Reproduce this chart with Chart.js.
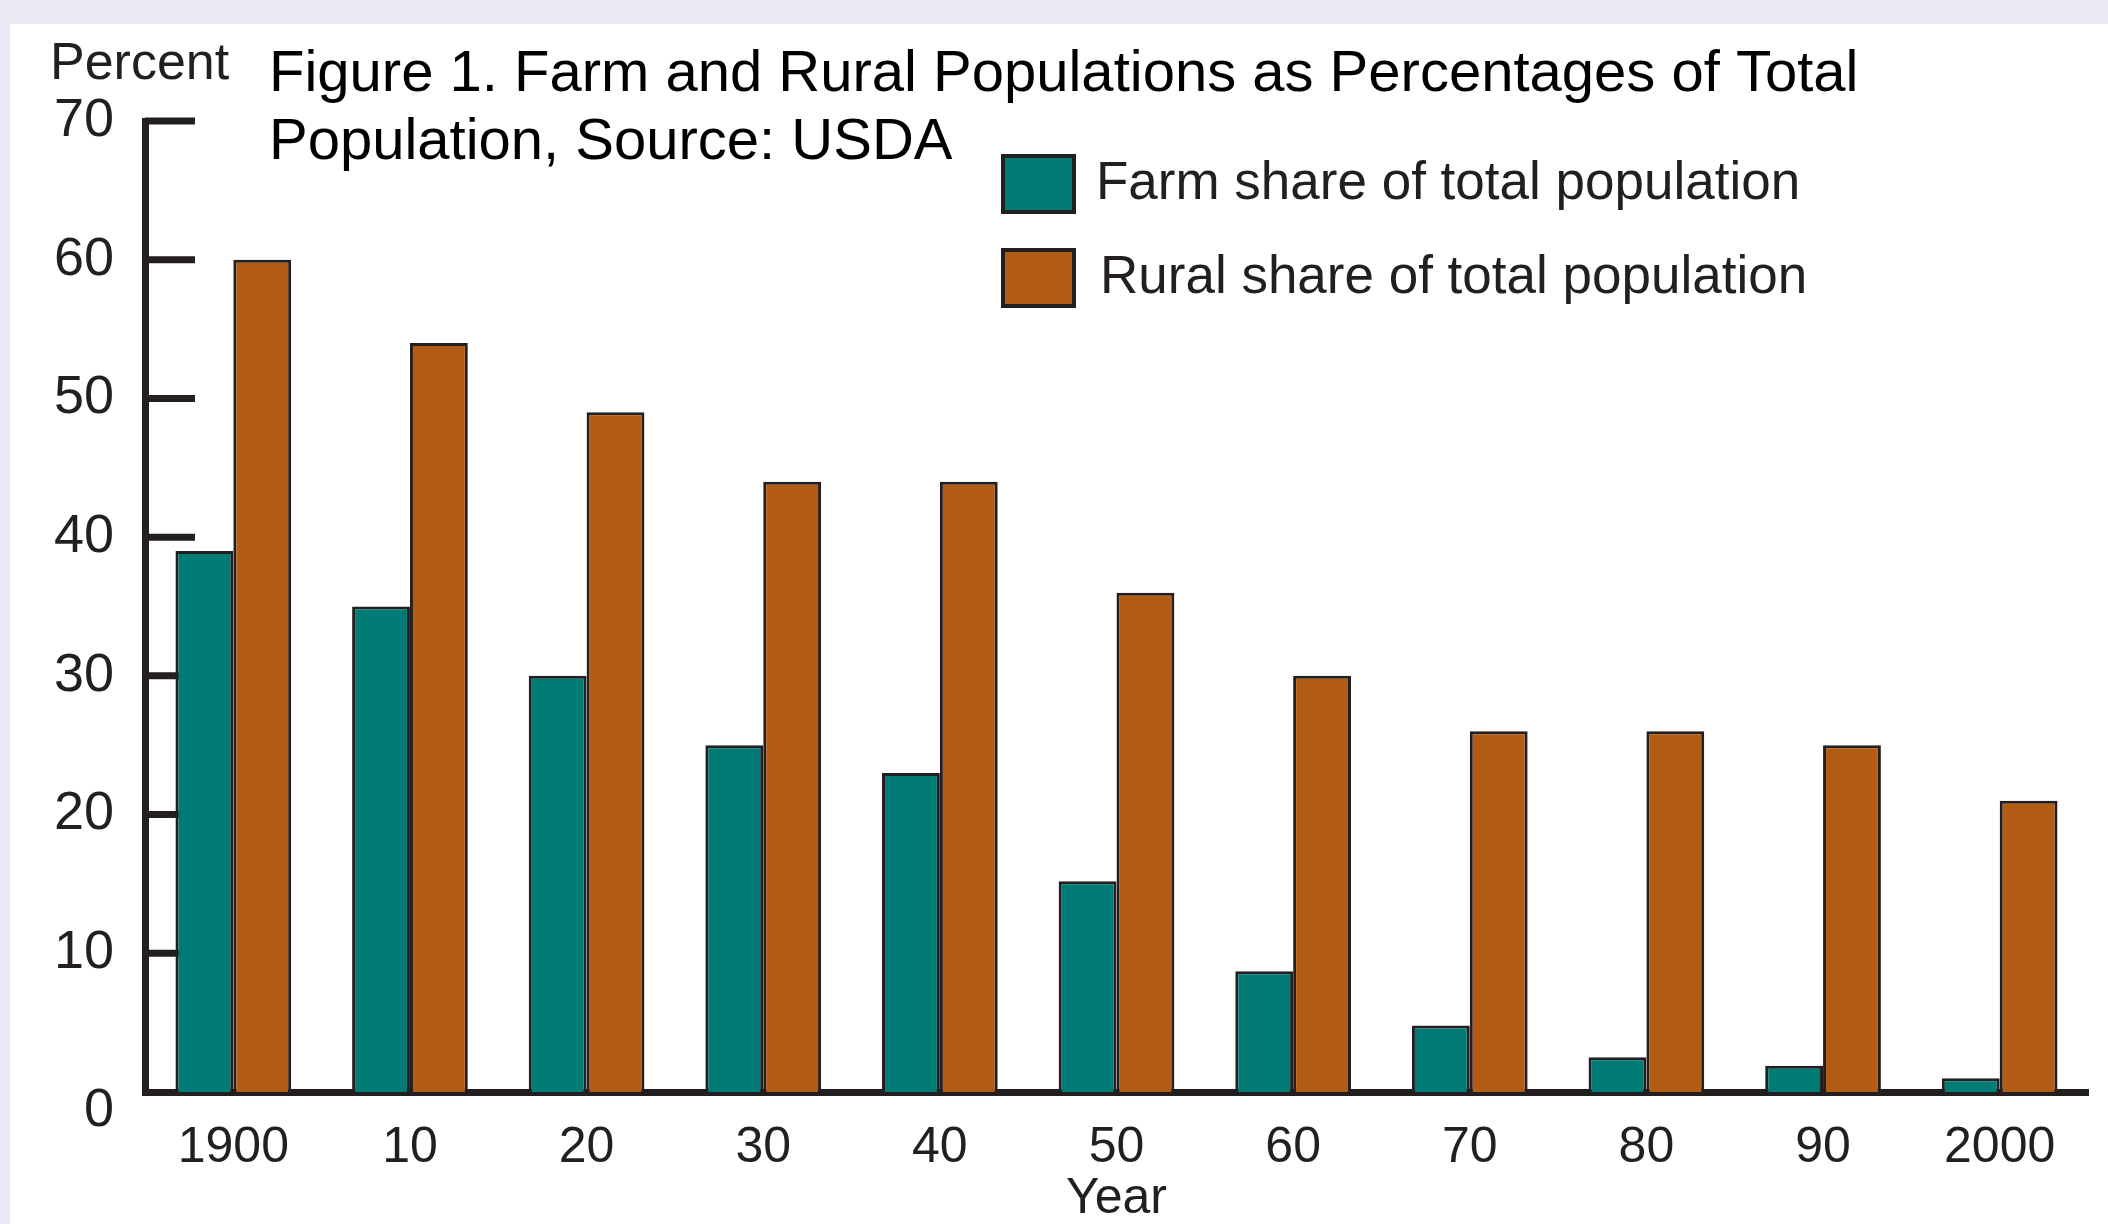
<!DOCTYPE html>
<html>
<head>
<meta charset="utf-8">
<script src="https://cdn.jsdelivr.net/npm/chart.js@4/dist/chart.umd.min.js"></script>
<style>
  html, body { margin: 0; padding: 0; background: #ebe7f5; }
  canvas { display: block; }
</style>
</head>
<body>
<canvas id="myChart" width="2108" height="1224"></canvas>
<script>
// data
var years = ['1900', '10', '20', '30', '40', '50', '60', '70', '80', '90', '2000'];
var farmShare = [39, 35, 30, 25, 23, 15.2, 8.7, 4.8, 2.5, 1.9, 1.0];
var ruralShare = [60, 54, 49, 44, 44, 36, 30, 26, 26, 25, 21];
var yTicks = [0, 10, 20, 30, 40, 50, 60, 70];
var titleLines = ['Figure 1. Farm and Rural Populations as Percentages of Total', 'Population, Source: USDA'];

var ink = '#231f20';
var font = 'Liberation Sans, Arial, Helvetica, sans-serif';

// lavender frame with the white panel
var background = {
  id: 'background',
  beforeDraw: function(chart) {
    var ctx = chart.ctx;
    ctx.save();
    ctx.fillStyle = '#ebe7f5';
    ctx.fillRect(0, 0, chart.width, chart.height);
    ctx.fillStyle = '#ffffff';
    ctx.fillRect(10, 24, chart.width - 10, chart.height - 24);
    ctx.restore();
  }
};

// tick marks sit inside the plot, right of the axis
var innerTicks = {
  id: 'innerTicks',
  beforeDatasetsDraw: function(chart) {
    var ctx = chart.ctx, y = chart.scales.y, left = chart.chartArea.left;
    ctx.save();
    ctx.strokeStyle = ink;
    ctx.lineWidth = 7;
    for (var i = 1; i < yTicks.length; i++) {
      var py = y.getPixelForValue(yTicks[i]);
      ctx.beginPath();
      ctx.moveTo(left, py);
      ctx.lineTo(left + 50, py);
      ctx.stroke();
    }
    ctx.restore();
  }
};

// title, "Percent" and the legend boxes
var texts = {
  id: 'texts',
  afterDraw: function(chart) {
    var ctx = chart.ctx;
    ctx.save();
    ctx.textBaseline = 'alphabetic';
    ctx.textAlign = 'left';
    ctx.fillStyle = '#000';
    ctx.font = '58px ' + font;
    ctx.fillText(titleLines[0], 269, 91);
    ctx.fillText(titleLines[1], 269, 159);

    ctx.fillStyle = ink;
    ctx.font = '52px ' + font;
    ctx.fillText('Percent', 50, 79);

    var ds = chart.data.datasets;
    ctx.font = '53px ' + font;
    ctx.textBaseline = 'middle';
    for (var i = 0; i < ds.length; i++) {
      var top = 156 + i * 94;
      ctx.fillStyle = ds[i].backgroundColor;
      ctx.fillRect(1003, top, 71, 56);
      ctx.strokeStyle = ink;
      ctx.lineWidth = 4;
      ctx.strokeRect(1003, top, 71, 56);
      ctx.fillStyle = ink;
      ctx.fillText(ds[i].label, 1096 + i * 4, top + 28);
    }
    ctx.restore();
  }
};

var ctx = document.getElementById('myChart');
var myChart = new Chart(ctx, {
  type: 'bar',
  data: {
    labels: years,
    datasets: [
      {
        label: 'Farm share of total population',
        data: farmShare,
        backgroundColor: '#007b75',
        borderColor: ink,
        borderWidth: 3,
        borderSkipped: 'start'
      },
      {
        label: 'Rural share of total population',
        data: ruralShare,
        backgroundColor: '#b35c13',
        borderColor: ink,
        borderWidth: 3,
        borderSkipped: 'start'
      }
    ]
  },
  options: {
    responsive: false,
    animation: false,
    devicePixelRatio: 1,
    categoryPercentage: 0.655,
    barPercentage: 1.0,
    layout: { padding: { left: 0, top: 121, right: 20, bottom: 0 } },
    plugins: {
      legend: { display: false },
      title: { display: false },
      tooltip: { enabled: false }
    },
    scales: {
      x: {
        z: 1,
        afterFit: function(scale) { scale.height = 132; },
        grid: { display: false, drawTicks: false },
        border: { display: true, color: ink, width: 7 },
        ticks: {
          color: ink,
          padding: 31,
          maxRotation: 0,
          font: { family: font, size: 50, lineHeight: 1 }
        },
        title: {
          display: true,
          text: 'Year',
          color: ink,
          padding: { top: -2, bottom: 0 },
          font: { family: font, size: 50, lineHeight: 1 }
        }
      },
      y: {
        z: 1,
        min: 0,
        max: 70,
        afterFit: function(scale) { scale.width = 145; },
        afterBuildTicks: function(scale) {
          scale.ticks = yTicks.map(function(v) { return { value: v }; });
        },
        grid: { display: false, drawTicks: false },
        border: { display: true, color: ink, width: 7 },
        ticks: {
          color: ink,
          padding: 31,
          font: { family: font, size: 54, lineHeight: 0.7 },
          callback: function(v) { return v === 0 ? ['', '0'] : String(v); }
        }
      }
    }
  },
  plugins: [background, innerTicks, texts]
});
</script>
</body>
</html>
